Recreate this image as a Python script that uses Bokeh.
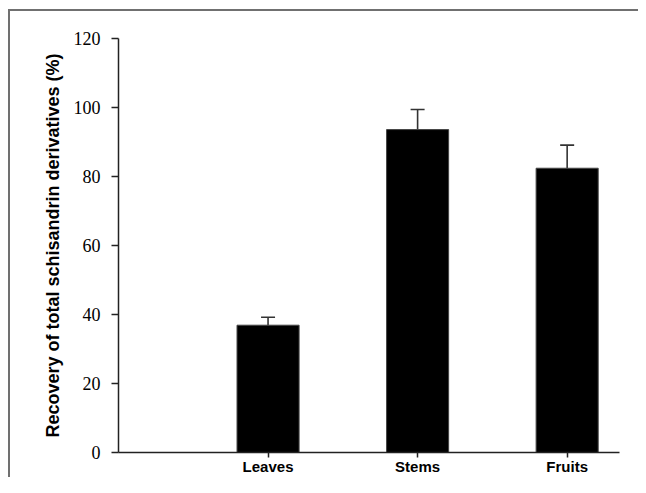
from bokeh.plotting import figure
from bokeh.models import Range1d, FixedTicker, Whisker, ColumnDataSource, TeeHead
from bokeh.embed import file_html
from bokeh.resources import INLINE

# ---- data ----
categories = ["Leaves", "Stems", "Fruits"]
positions = [1, 2, 3]
recovery = [36.9, 93.6, 82.4]
errors = [2.3, 5.8, 6.7]
y_ticks = [0, 20, 40, 60, 80, 100, 120]

upper = [r + e for r, e in zip(recovery, errors)]
src = ColumnDataSource(dict(x=positions, top=recovery, upper=upper))

p = figure(width=638, height=477, output_backend="svg", toolbar_location=None,
           x_range=Range1d(0, 3.35), y_range=Range1d(0, 120),
           min_border_left=118, min_border_right=19, min_border_top=38,
           min_border_bottom=22)
p.border_fill_color = "white"
p.background_fill_color = "white"
p.outline_line_color = None
p.xgrid.visible = False
p.ygrid.visible = False
# outer picture frame: only its left and top edges fall inside the window
p.stylesheets = [
    ":host::after { content: ''; position: absolute; left: 8px; top: 9px; "
    "right: 0; bottom: 0; border-left: 2px solid #707070; "
    "border-top: 2px solid #707070; pointer-events: none; z-index: 10; }"
]

p.vbar(x="x", top="top", width=0.415, source=src,
       fill_color="black", line_color="#444444", line_width=1)

wh = Whisker(base="x", upper="upper", lower="top", source=src,
             line_color="#333333", line_width=1.6,
             upper_head=TeeHead(size=14, line_color="#333333", line_width=1.6),
             lower_head=None)
p.add_layout(wh)

# y axis
ya = p.yaxis[0]
ya.ticker = FixedTicker(ticks=y_ticks)
ya.major_label_text_font = "Liberation Serif"
ya.major_label_text_font_size = "18px"
ya.major_label_text_color = "black"
ya.major_tick_in = 0
ya.major_tick_out = 7
ya.minor_tick_line_color = None
ya.axis_line_width = 1.5
ya.axis_line_color = "#222222"
ya.major_tick_line_color = "#222222"
ya.major_tick_line_width = 1.5
ya.major_label_standoff = 11
ya.axis_label = "Recovery of total schisandrin derivatives (%)"
ya.axis_label_text_font = "Liberation Sans"
ya.axis_label_text_font_style = "bold"
ya.axis_label_text_font_size = "18px"
ya.axis_label_text_color = "black"
ya.axis_label_standoff = 8

# x axis
xa = p.xaxis[0]
xa.ticker = FixedTicker(ticks=positions)
xa.major_label_overrides = {pos: cat for pos, cat in zip(positions, categories)}
xa.major_label_text_font = "Liberation Sans"
xa.major_label_text_font_style = "bold"
xa.major_label_text_font_size = "15px"
xa.major_label_text_color = "black"
xa.major_tick_in = 0
xa.major_tick_out = 5
xa.minor_tick_line_color = None
xa.axis_line_width = 1.5
xa.axis_line_color = "#222222"
xa.major_tick_line_color = "#222222"
xa.major_tick_line_width = 1.5
xa.major_label_standoff = 0

open("out.html", "w").write(file_html(p, INLINE))
